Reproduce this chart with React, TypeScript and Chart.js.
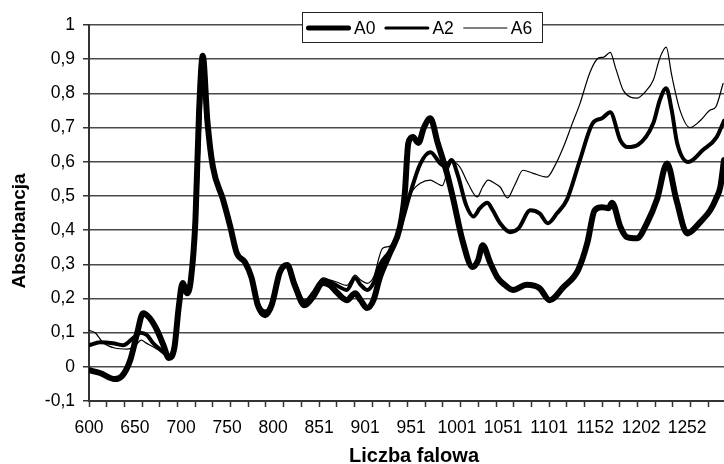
import React, { useEffect, useRef } from 'react';
import { Chart, registerables } from 'chart.js';

Chart.register(...registerables);

// ---- data ----
const seriesNames = ['A0', 'A2', 'A6'];

const a0Wave = [600, 612, 628, 636, 645, 652, 659, 666, 674, 681, 687, 693, 698, 702, 707, 711, 716, 720, 724, 729, 735, 746, 754, 761, 770, 777, 784, 792, 799, 808, 816, 824, 835, 844, 855, 863, 870, 881, 890, 896, 903, 910, 917, 928, 939, 944, 948, 953, 959, 965, 972, 980, 990, 997, 1007, 1018, 1024, 1029, 1037, 1045, 1053, 1062, 1077, 1091, 1102, 1117, 1133, 1143, 1151, 1159, 1166, 1170, 1179, 1186, 1197, 1208, 1219, 1230, 1240, 1252, 1258, 1266, 1277, 1283, 1288, 1292];
const a0Abs = [-0.01, -0.018, -0.036, -0.027, 0.02, 0.093, 0.157, 0.143, 0.108, 0.064, 0.026, 0.055, 0.18, 0.245, 0.215, 0.254, 0.43, 0.75, 0.91, 0.72, 0.585, 0.49, 0.41, 0.333, 0.306, 0.262, 0.18, 0.151, 0.18, 0.277, 0.298, 0.24, 0.18, 0.204, 0.245, 0.238, 0.218, 0.195, 0.215, 0.195, 0.172, 0.195, 0.262, 0.333, 0.41, 0.503, 0.655, 0.672, 0.655, 0.7, 0.727, 0.655, 0.567, 0.49, 0.37, 0.292, 0.312, 0.356, 0.306, 0.262, 0.24, 0.225, 0.24, 0.23, 0.195, 0.233, 0.283, 0.362, 0.458, 0.467, 0.464, 0.48, 0.41, 0.38, 0.376, 0.42, 0.49, 0.595, 0.49, 0.39, 0.4, 0.423, 0.458, 0.49, 0.526, 0.605];

const a2Wave = [600, 612, 626, 637, 648, 656, 663, 670, 677, 685, 688, 694, 698, 702, 707, 711, 716, 720, 724, 729, 735, 746, 754, 761, 770, 777, 784, 792, 799, 808, 816, 824, 835, 844, 855, 863, 870, 881, 890, 896, 903, 910, 917, 928, 939, 950, 961, 972, 983, 989, 995, 1002, 1011, 1019, 1026, 1034, 1040, 1048, 1059, 1068, 1081, 1091, 1100, 1110, 1121, 1135, 1149, 1159, 1168, 1179, 1187, 1198, 1215, 1222, 1229, 1235, 1241, 1253, 1269, 1284, 1292];
const a2Abs = [0.063, 0.072, 0.069, 0.063, 0.084, 0.1, 0.093, 0.069, 0.052, 0.035, 0.032, 0.078, 0.18, 0.24, 0.215, 0.254, 0.415, 0.693, 0.88, 0.707, 0.585, 0.49, 0.41, 0.333, 0.306, 0.262, 0.186, 0.16, 0.186, 0.277, 0.298, 0.245, 0.19, 0.215, 0.254, 0.248, 0.238, 0.225, 0.26, 0.24, 0.225, 0.245, 0.298, 0.34, 0.405, 0.507, 0.594, 0.628, 0.594, 0.585, 0.605, 0.56, 0.473, 0.44, 0.464, 0.48, 0.458, 0.42, 0.394, 0.405, 0.458, 0.449, 0.42, 0.449, 0.49, 0.605, 0.713, 0.727, 0.745, 0.663, 0.643, 0.649, 0.713, 0.78, 0.815, 0.751, 0.654, 0.599, 0.634, 0.672, 0.72];

const a6Wave = [600, 607, 615, 628, 642, 650, 657, 662, 672, 681, 687, 694, 698, 702, 707, 711, 716, 720, 724, 729, 735, 746, 754, 761, 770, 777, 784, 792, 799, 808, 816, 824, 835, 844, 855, 863, 870, 881, 890, 896, 903, 910, 920, 928, 937, 944, 953, 961, 972, 979, 985, 991, 996, 1004, 1013, 1023, 1029, 1035, 1042, 1048, 1056, 1064, 1073, 1084, 1099, 1108, 1117, 1126, 1135, 1146, 1155, 1161, 1168, 1174, 1182, 1190, 1197, 1206, 1215, 1222, 1229, 1235, 1244, 1255, 1266, 1277, 1283, 1291];
const a6Abs = [0.107, 0.099, 0.072, 0.055, 0.052, 0.061, 0.078, 0.07, 0.055, 0.04, 0.029, 0.078, 0.18, 0.236, 0.215, 0.254, 0.415, 0.687, 0.868, 0.7, 0.585, 0.49, 0.41, 0.333, 0.306, 0.262, 0.195, 0.166, 0.189, 0.277, 0.298, 0.248, 0.195, 0.218, 0.26, 0.254, 0.248, 0.238, 0.268, 0.254, 0.244, 0.262, 0.347, 0.353, 0.405, 0.473, 0.517, 0.537, 0.546, 0.537, 0.53, 0.575, 0.6, 0.585, 0.537, 0.497, 0.526, 0.546, 0.537, 0.526, 0.494, 0.532, 0.575, 0.566, 0.555, 0.59, 0.643, 0.707, 0.77, 0.862, 0.903, 0.906, 0.92, 0.873, 0.81, 0.789, 0.786, 0.804, 0.839, 0.903, 0.935, 0.853, 0.751, 0.7, 0.72, 0.751, 0.76, 0.829];

const seriesWidths = [6, 4, 1.2];

// x axis: labelled categories (value in cm-1 and printed label) and the minor tick-mark step
const xLabelValues = [600, 650.1, 700.3, 750.4, 800.6, 850.7, 900.8, 951.0, 1001.1, 1051.3, 1101.4, 1151.6, 1201.7, 1251.8];
const xTickLabels = ['600', '650', '700', '750', '800', '851', '901', '951', '1001', '1051', '1101', '1152', '1202', '1252'];
const xMarkStep = 19.285;
const xMin = 600;
const xMax = 1292;

// y axis
const yMin = -0.1;
const yMax = 1;
const yStep = 0.1;

const xTitle = 'Liczba falowa';
const yTitle = 'Absorbancja';

const FONT = "'Liberation Sans', Arial, sans-serif";

function fmtY(v: number): string {
  const r = Math.round(v * 10) / 10;
  return String(r).replace('.', ',');
}

const overlayPlugin = {
  id: 'overlay',
  afterDraw(chart: any) {
    const ctx = chart.ctx as CanvasRenderingContext2D;
    ctx.save();
    // axis titles
    ctx.fillStyle = '#000';
    ctx.font = `bold 20px ${FONT}`;
    ctx.textAlign = 'center';
    ctx.textBaseline = 'alphabetic';
    ctx.fillText(xTitle, 414, 462);
    ctx.save();
    ctx.translate(25, 231);
    ctx.rotate(-Math.PI / 2);
    ctx.font = `bold 19px ${FONT}`;
    ctx.fillText(yTitle, 0, 0);
    ctx.restore();

    // legend box
    const left = 302, top = 12, w = 240, h = 30;
    ctx.fillStyle = '#fff';
    ctx.fillRect(left, top, w, h);
    ctx.strokeStyle = '#222';
    ctx.lineWidth = 1;
    ctx.strokeRect(left + 0.5, top + 0.5, w, h);
    ctx.font = `17.5px ${FONT}`;
    ctx.textAlign = 'left';
    ctx.textBaseline = 'middle';
    let x = left + 4;
    const ly = 28;
    chart.data.datasets.forEach((ds: any) => {
      const lw = Math.max(1, ds.borderWidth - 1);
      ctx.beginPath();
      ctx.strokeStyle = '#000';
      ctx.lineWidth = lw;
      ctx.lineCap = lw > 1.5 ? 'round' : 'butt';
      ctx.moveTo(x + lw / 2, ly);
      ctx.lineTo(x + 45 - lw / 2, ly);
      ctx.stroke();
      x += 48;
      ctx.fillStyle = '#000';
      ctx.fillText(ds.label, x, ly + 1);
      x += ctx.measureText(ds.label).width + 9;
    });
    ctx.restore();
  },
};

export default function App() {
  const ref = useRef<HTMLCanvasElement>(null);
  useEffect(() => {
    document.body.style.margin = '0';
    const waves = [a0Wave, a2Wave, a6Wave];
    const abs = [a0Abs, a2Abs, a6Abs];
    const datasets = seriesNames.map((name, i) => ({
      label: name,
      data: waves[i].map((w, j) => ({ x: w, y: abs[i][j] })),
      borderColor: '#000',
      backgroundColor: '#000',
      borderWidth: seriesWidths[i],
      pointRadius: 0,
      fill: false,
      cubicInterpolationMode: 'monotone' as const,
      borderCapStyle: 'round' as const,
      borderJoinStyle: 'round' as const,
    }));

    const chart = new Chart(ref.current as HTMLCanvasElement, {
      type: 'line',
      data: { datasets },
      plugins: [overlayPlugin],
      options: {
        animation: false,
        responsive: false,
        devicePixelRatio: 1,
        layout: { padding: { top: 25, left: 0, right: 0, bottom: 0 } },
        plugins: { legend: { display: false }, tooltip: { enabled: false } },
        scales: {
          x: {
            type: 'linear',
            min: xMin,
            max: xMax,
            afterBuildTicks: (scale: any) => {
              const ticks: any[] = [];
              for (let k = 0; xMin + k * xMarkStep <= xMax; k++) {
                ticks.push({ value: xMin + k * xMarkStep, mark: true });
              }
              xLabelValues.forEach((v, i) => ticks.push({ value: v, lab: xTickLabels[i] }));
              ticks.sort((a, b) => a.value - b.value);
              scale.ticks = ticks;
            },
            afterFit: (scale: any) => {
              scale.height = 63;
            },
            ticks: {
              autoSkip: false,
              maxRotation: 0,
              minRotation: 0,
              padding: 11,
              color: '#000',
              font: { family: FONT, size: 17.5 },
              callback: function (_value: any, index: number, ticks: any[]) {
                return ticks[index] && ticks[index].lab ? ticks[index].lab : '';
              },
            },
            grid: {
              drawOnChartArea: false,
              drawTicks: true,
              tickLength: 6,
              tickWidth: 1.5,
              tickColor: (ctx: any) => (ctx.tick && ctx.tick.mark ? '#333' : 'rgba(0,0,0,0)'),
            },
            border: { display: true, color: '#333', width: 2 },
          },
          y: {
            type: 'linear',
            min: yMin,
            max: yMax,
            afterFit: (scale: any) => {
              scale.width = 89;
            },
            ticks: {
              stepSize: yStep,
              padding: 8,
              color: '#000',
              font: { family: FONT, size: 17.5 },
              callback: (v: any) => fmtY(Number(v)),
            },
            grid: {
              color: '#4a4a4a',
              lineWidth: 1.5,
              drawTicks: true,
              tickLength: 6,
              tickColor: '#333',
            },
            border: { display: true, color: '#333', width: 2 },
          },
        },
      },
    });
    return () => chart.destroy();
  }, []);

  return (
    <div style={{ width: 724, height: 464 }}>
      <canvas ref={ref} width={724} height={464} style={{ display: 'block' }} />
    </div>
  );
}
